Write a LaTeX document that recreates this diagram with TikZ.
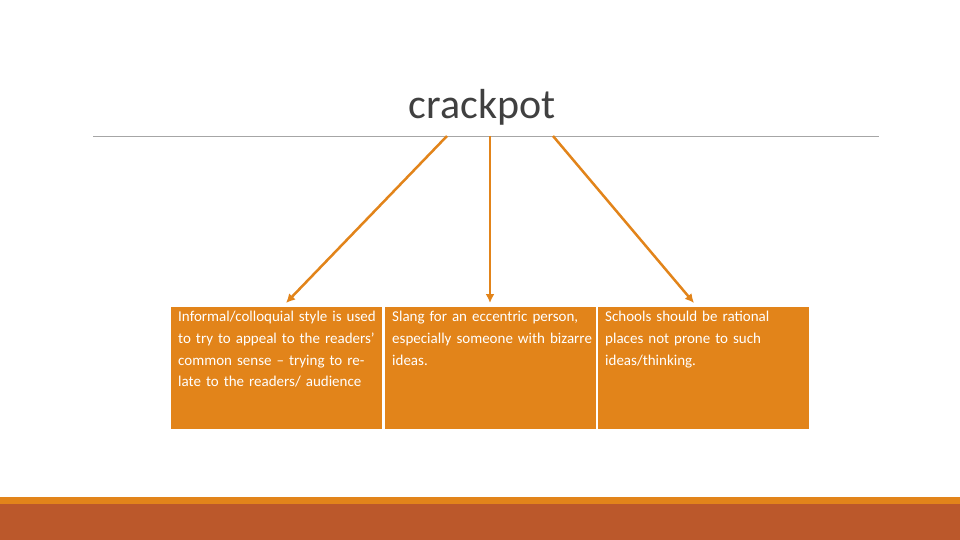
\documentclass[tikz,border=0pt]{standalone}
\usepackage{fontspec}
\usetikzlibrary{arrows.meta}
\setmainfont{Carlito}
\definecolor{org}{HTML}{E2841A}
\definecolor{rust}{HTML}{BB582B}
\begin{document}
\begin{tikzpicture}[x=1pt,y=-1pt,
  box/.style={fill=org,draw=none,minimum width=211,minimum height=122,anchor=north west},
  txt/.style={text=white,font=\fontsize{15}{21.7}\selectfont,text width=200,align=left,anchor=north west,inner sep=0},
  arr/.style={draw=org,line width=2.5,-{Latex[length=9,width=9]}}]
\useasboundingbox (0,0) rectangle (960,540);
\fill[white] (0,0) rectangle (960,540);
\node[font=\fontsize{42}{48}\selectfont,text=black!75] (t) at (482,107) {crackpot};
\draw[gray!70,line width=0.8] (93,136) -- (879,136);
\node[box] (b1) at (171,307) {};
\node[box] (b2) at (385,307) {};
\node[box] (b3) at (598,307) {};
\node[txt] at (178,311) {Informal/colloquial style is used to try to appeal to the readers' common sense – trying to relate to the readers/ audience};
\node[txt] at (392,311) {Slang for an eccentric person, especially someone with bizarre ideas.};
\node[txt] at (605,311) {Schools should be rational places not prone to such ideas/thinking.};
\coordinate (s1) at (447,136); \coordinate (s2) at (490,136); \coordinate (s3) at (553,136);
\coordinate (e1) at (286,303); \coordinate (e2) at (490,303); \coordinate (e3) at (694,303);
\draw[arr] (s1) -- (e1);
\draw[arr] (s2) -- (e2);
\draw[arr] (s3) -- (e3);
\fill[org] (0,497) rectangle (960,504);
\fill[rust] (0,504) rectangle (960,540);
\end{tikzpicture}
\end{document}
